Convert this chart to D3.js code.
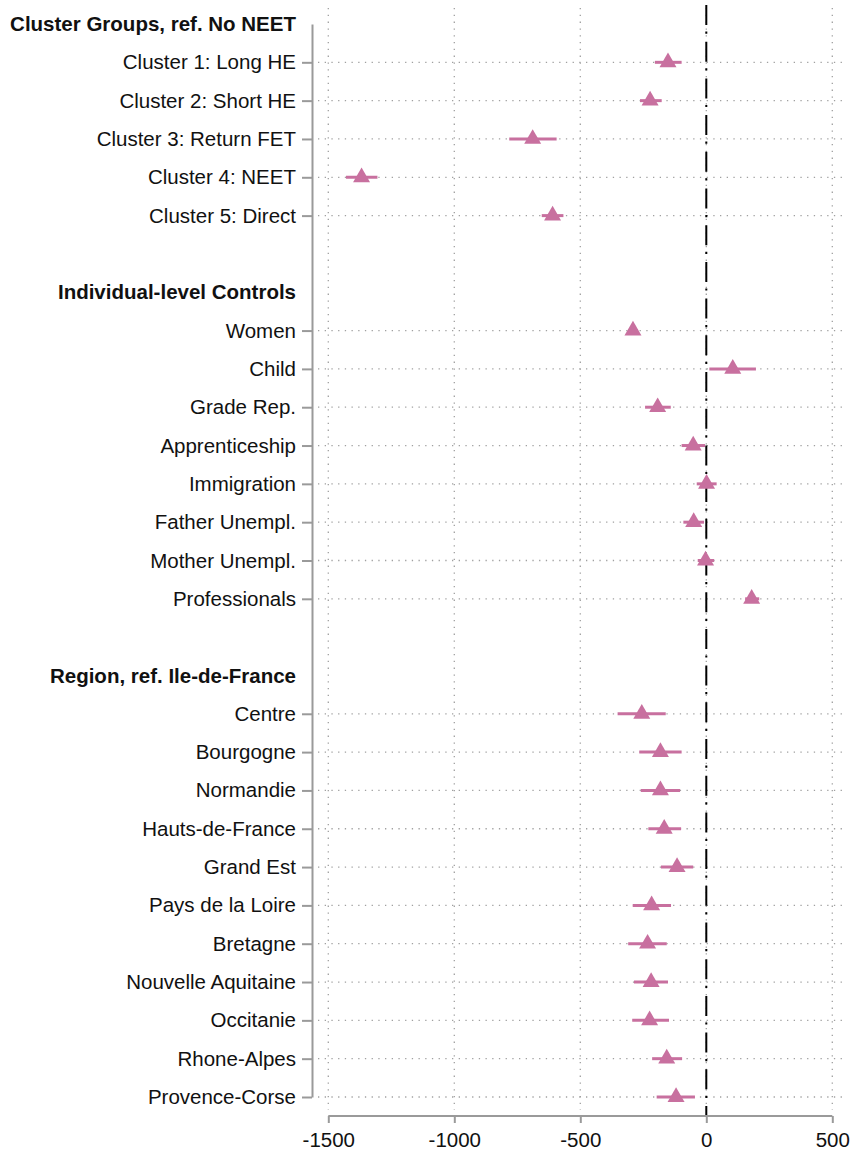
<!DOCTYPE html>
<html>
<head>
<meta charset="utf-8">
<script src="https://cdn.jsdelivr.net/npm/d3@7"></script>
<style>
  html, body { margin: 0; padding: 0; background: #fff; }
  svg { display: block; }
  text { font-family: "Liberation Sans", Arial, sans-serif; }
</style>
</head>
<body>
<svg id="chart" width="855" height="1153"></svg>
<script>
// ---------- data ----------
const groupHeaders = ["Cluster Groups, ref. No NEET", "Individual-level Controls", "Region, ref. Ile-de-France"];

const clusterLabels = ["Cluster 1: Long HE", "Cluster 2: Short HE", "Cluster 3: Return FET", "Cluster 4: NEET", "Cluster 5: Direct"];
const clusterEst = [-152, -223, -689, -1368, -610];
const clusterLo  = [-204, -263, -782, -1430, -653];
const clusterHi  = [-98, -177, -594, -1305, -567];

const controlLabels = ["Women", "Child", "Grade Rep.", "Apprenticeship", "Immigration", "Father Unempl.", "Mother Unempl.", "Professionals"];
const controlEst = [-291, 105, -193, -52, 1, -50, -3, 180];
const controlLo  = [-310, 12, -243, -98, -38, -91, -34, 154];
const controlHi  = [-272, 197, -141, -5, 41, -9, 31, 210];

const regionLabels = ["Centre", "Bourgogne", "Normandie", "Hauts-de-France", "Grand Est", "Pays de la Loire", "Bretagne", "Nouvelle Aquitaine", "Occitanie", "Rhone-Alpes", "Provence-Corse"];
const regionEst = [-256, -182, -182, -167, -116, -217, -233, -219, -225, -157, -120];
const regionLo  = [-352, -266, -260, -230, -180, -292, -310, -287, -294, -215, -197];
const regionHi  = [-161, -98, -104, -100, -52, -140, -157, -152, -148, -96, -45];

const xTicks = [-1500, -1000, -500, 0, 500];

// ---------- build rows ----------
const rows = [];
function addGroup(header, labels, est, lo, hi, gi) {
  rows.push({ key: "h" + gi, label: header, type: "header" });
  labels.forEach((l, i) => rows.push({ key: "r" + gi + "_" + i, label: l, type: "row", est: est[i], lo: lo[i], hi: hi[i] }));
}
addGroup(groupHeaders[0], clusterLabels, clusterEst, clusterLo, clusterHi, 0);
rows.push({ key: "b0", label: "", type: "blank" });
addGroup(groupHeaders[1], controlLabels, controlEst, controlLo, controlHi, 1);
rows.push({ key: "b1", label: "", type: "blank" });
addGroup(groupHeaders[2], regionLabels, regionEst, regionLo, regionHi, 2);
const byKey = new Map(rows.map(r => [r.key, r]));
const dataRows = rows.filter(r => r.type === "row");

// ---------- scales ----------
const svg = d3.select("#chart");
const axisX = 312, axisY = 1116;
const x = d3.scaleLinear().domain([-1500, 500]).range([328.3, 832.3]);
const y = d3.scalePoint().domain(rows.map(r => r.key)).range([24, 1097]).padding(0);

const pink = "#c8709f";
const gridCol = "#a0a0a0";
const axisCol = "#9a9a9a";
const fs = 20.5;

// ---------- grid ----------
const grid = svg.append("g");
grid.selectAll("line.vg").data(xTicks).enter().append("line")
  .attr("x1", d => x(d)).attr("x2", d => x(d))
  .attr("y1", 8).attr("y2", 1110)
  .attr("stroke", gridCol).attr("stroke-width", 1.3)
  .attr("stroke-dasharray", "1.3,5.5");
grid.selectAll("line.hg").data(dataRows).enter().append("line")
  .attr("x1", 318).attr("x2", 846)
  .attr("y1", d => y(d.key)).attr("y2", d => y(d.key))
  .attr("stroke", gridCol).attr("stroke-width", 1.3)
  .attr("stroke-dasharray", "1.3,5.4");

// ---------- zero reference line ----------
svg.append("line")
  .attr("x1", x(0)).attr("x2", x(0))
  .attr("y1", 5).attr("y2", axisY)
  .attr("stroke", "#000").attr("stroke-width", 2)
  .attr("stroke-dasharray", "20,6.5,2.2,8");

// ---------- x axis ----------
const gx = svg.append("g").attr("transform", `translate(0,${axisY})`)
  .call(d3.axisBottom(x).tickValues(xTicks).tickSize(7).tickSizeOuter(0).tickPadding(9.4).tickFormat(d3.format("d")));
gx.select(".domain").attr("stroke", axisCol).attr("stroke-width", 2)
  .attr("d", `M${x(-1500)},0H${x(500)}`);
gx.selectAll(".tick line").attr("stroke", axisCol).attr("stroke-width", 2);
gx.selectAll(".tick text").attr("font-size", fs).attr("fill", "#111").attr("font-family", "Liberation Sans, Arial, sans-serif")
  .text(d => d < 0 ? "-" + Math.abs(d) : String(d));

// ---------- y axis ----------
const gy = svg.append("g").attr("transform", `translate(${axisX},0)`)
  .call(d3.axisLeft(y).tickSize(10).tickSizeOuter(0).tickPadding(6).tickFormat(k => byKey.get(k).label));
gy.select(".domain").attr("stroke", axisCol).attr("stroke-width", 2);
gy.selectAll(".tick line").attr("stroke", axisCol).attr("stroke-width", 2)
  .attr("display", k => byKey.get(k).type === "row" ? null : "none");
gy.selectAll(".tick text")
  .attr("font-size", fs).attr("fill", "#111").attr("font-family", "Liberation Sans, Arial, sans-serif")
  .attr("font-weight", k => byKey.get(k).type === "header" ? "bold" : "normal")
  .attr("x", -16);

// ---------- confidence intervals ----------
svg.append("g").selectAll("line").data(dataRows).enter().append("line")
  .attr("x1", d => x(d.lo)).attr("x2", d => x(d.hi))
  .attr("y1", d => y(d.key)).attr("y2", d => y(d.key))
  .attr("stroke", pink).attr("stroke-width", 3);

// ---------- point estimates ----------
const tri = d3.symbol().type(d3.symbolTriangle).size(125);
svg.append("g").selectAll("path").data(dataRows).enter().append("path")
  .attr("d", tri)
  .attr("transform", d => `translate(${x(d.est)},${y(d.key)})`)
  .attr("fill", pink);
</script>
</body>
</html>
